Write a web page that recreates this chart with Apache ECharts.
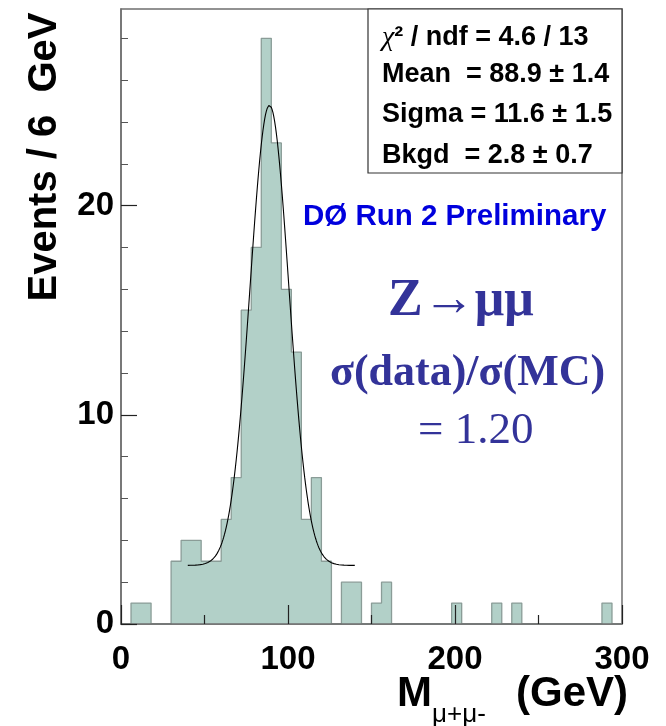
<!DOCTYPE html>
<html>
<head>
<meta charset="utf-8">
<script src="https://cdn.jsdelivr.net/npm/echarts@6/dist/echarts.min.js"></script>
<style>
  html, body { margin: 0; padding: 0; background: #fff; }
  #chart { width: 666px; height: 726px; }
</style>
</head>
<body>
<div id="chart"></div>
<script>
// Dimuon invariant mass histogram: 50 bins of 6 GeV from 0 to 300 GeV
const binWidth = 6;
const binLowEdges = Array.from({ length: 50 }, (_, i) => i * binWidth);
const binCounts = [
  0, 1, 1, 0, 0, 3, 4, 4, 3, 3,
  5, 7, 15, 18, 28, 23, 16, 13, 5, 7,
  3, 0, 2, 2, 0, 1, 2, 0, 0, 0,
  0, 0, 0, 1, 0, 0, 0, 1, 0, 1,
  0, 0, 0, 0, 0, 0, 0, 0, 1, 0
];

// Gaussian + flat background fit
const fitMean = 88.9;
const fitSigma = 11.6;
const fitBkgd = 2.8;
const fitPeak = 22.0;       // Gaussian amplitude above background
const fitRange = [40, 140];

// Axis ticks
const xTickLabels = [0, 100, 200, 300];
const yMajorTicks = [0, 10, 20];
const yMinorTicks = [2, 4, 6, 8, 12, 14, 16, 18, 22, 24, 26, 28];
const yMax = 29.4;

// Fit statistics
const statLines = [
  '{chi|χ}{t|² / ndf = 4.6 / 13}',
  'Mean  = 88.9 ± 1.4',
  'Sigma = 11.6 ± 1.5',
  'Bkgd  = 2.8 ± 0.7'
];

// Step outline of the histogram (one point per bin lower edge, closed at 300)
const histStep = binLowEdges.map((lo, i) => [lo, binCounts[i]])
  .concat([[binLowEdges[binLowEdges.length - 1] + binWidth, 0]]);

const fitData = [];
for (let x = fitRange[0]; x <= fitRange[1] + 1e-9; x += 0.5) {
  const z = (x - fitMean) / fitSigma;
  fitData.push([x, fitBkgd + fitPeak * Math.exp(-0.5 * z * z)]);
}

const SANS = '"Liberation Sans", Arial, Helvetica, sans-serif';
const SERIF = '"Liberation Serif", "Times New Roman", serif';
const frameColor = '#6f6f6f';
const tickColor = '#222';
const mainTextColor = '#333399';

const chart = echarts.init(document.getElementById('chart'), null, { renderer: 'canvas' });

const statGraphics = statLines.map((txt, i) => ({
  type: 'text',
  left: 382,
  top: [24, 61, 101, 142][i],
  z: 100,
  style: {
    text: txt,
    font: 'bold 27px ' + SANS,
    fill: '#000',
    rich: {
      chi: { fontFamily: SERIF, fontStyle: 'italic', fontSize: 28, fill: '#000' },
      t: { fontFamily: SANS, fontWeight: 'bold', fontSize: 27, fill: '#000' }
    }
  }
}));

chart.setOption({
  animation: false,
  backgroundColor: '#fff',
  grid: {
    left: 121, right: 44, top: 9, bottom: 102,
    show: true, borderColor: frameColor, borderWidth: 1.5,
    containLabel: false, outerBoundsMode: 'none'
  },
  xAxis: {
    type: 'value', min: 0, max: 300, interval: 100, z: 10,
    axisLine: { show: true, lineStyle: { color: frameColor, width: 1.5 } },
    axisTick: { show: true, inside: true, length: 19, lineStyle: { color: tickColor, width: 1.2 } },
    minorTick: { show: true, splitNumber: 2, length: 9, lineStyle: { color: tickColor, width: 1.2 } },
    splitLine: { show: false },
    axisLabel: {
      customValues: xTickLabels,
      margin: 19, color: '#000', fontSize: 33, fontWeight: 'bold', fontFamily: SANS
    }
  },
  yAxis: [
    {
      type: 'value', min: 0, max: yMax, z: 10,
      axisLine: { show: true, lineStyle: { color: frameColor, width: 1.5 } },
      axisTick: { show: true, inside: true, length: 16, customValues: yMajorTicks,
                  lineStyle: { color: tickColor, width: 1.2 } },
      axisLabel: { customValues: yMajorTicks, margin: 7, color: '#000',
                   fontSize: 33, fontWeight: 'bold', fontFamily: SANS },
      splitLine: { show: false }
    },
    {
      type: 'value', min: 0, max: yMax, position: 'left', z: 10,
      axisLine: { show: false },
      axisTick: { show: true, inside: true, length: 7, customValues: yMinorTicks,
                  lineStyle: { color: '#555', width: 1 } },
      axisLabel: { show: false },
      splitLine: { show: false }
    }
  ],
  series: [
    {
      name: 'events',
      type: 'line',
      step: 'end',
      z: 2,
      showSymbol: false,
      data: histStep,
      lineStyle: { color: '#8a9c97', width: 1.3 },
      areaStyle: { color: '#b2d0c8', opacity: 1, origin: 0 }
    },
    {
      name: 'fit',
      type: 'line',
      z: 4,
      showSymbol: false,
      smooth: false,
      data: fitData,
      lineStyle: { color: '#000', width: 1.1 }
    }
  ],
  graphic: [
    {
      type: 'rect', z: 90,
      shape: { x: 368, y: 9, width: 254, height: 164 },
      style: { fill: '#fff', stroke: '#333', lineWidth: 1.2 }
    },
    ...statGraphics,
    {
      type: 'text', left: 303, top: 202, z: 100,
      style: { text: 'DØ Run 2 Preliminary', font: 'bold 29.5px ' + SANS, fill: '#0000dd' }
    },
    {
      type: 'text', left: 388, top: 276, z: 100,
      style: { text: 'Z→μμ', font: 'bold 52px ' + SERIF, fill: mainTextColor }
    },
    {
      type: 'text', left: 330, top: 352, z: 100,
      style: { text: 'σ(data)/σ(MC)', font: 'bold 44px ' + SERIF, fill: mainTextColor }
    },
    {
      type: 'text', left: 418, top: 409, z: 100,
      style: { text: '= 1.20', font: '45px ' + SERIF, fill: mainTextColor }
    },
    {
      type: 'text', z: 100,
      x: 45, y: 157, rotation: Math.PI / 2,
      style: { text: 'Events / 6  GeV', font: 'bold 40px ' + SANS, fill: '#000',
               align: 'center', verticalAlign: 'middle' }
    },
    {
      type: 'text', left: 397, top: 673, z: 100,
      style: { text: 'M', font: 'bold 42px ' + SANS, fill: '#000' }
    },
    {
      type: 'text', left: 432, top: 702, z: 100,
      style: { text: 'μ+μ-', font: '26px ' + SANS, fill: '#000' }
    },
    {
      type: 'text', right: 38, top: 673, z: 100,
      style: { text: '(GeV)', font: 'bold 42px ' + SANS, fill: '#000' }
    }
  ]
});
</script>
</body>
</html>
